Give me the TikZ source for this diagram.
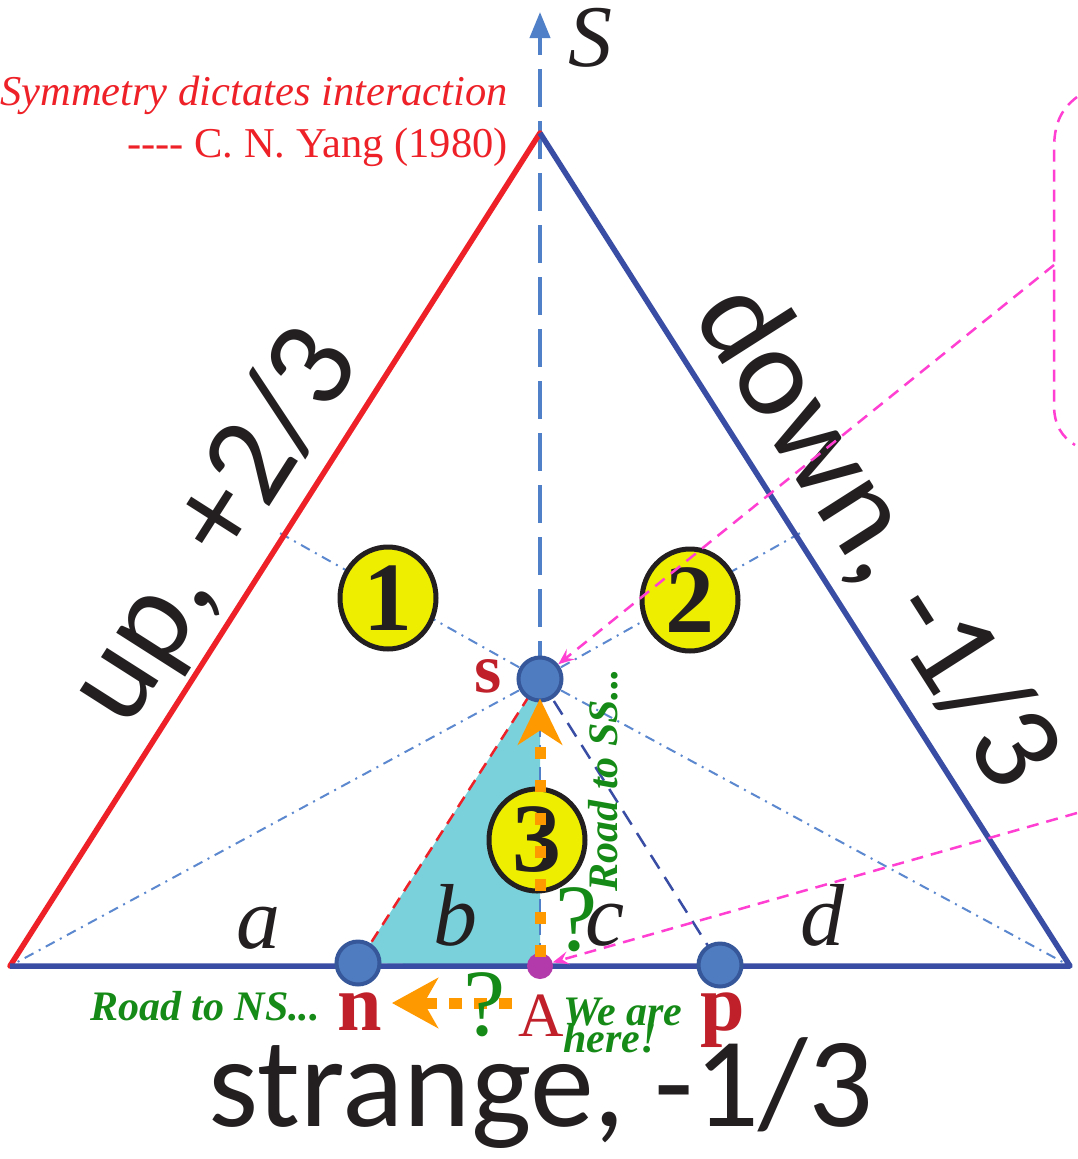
\documentclass[tikz,border=0pt]{standalone}
\usepackage{fontspec}
\setmainfont{Liberation Serif}
\newfontfamily\calfont{Carlito}
\usetikzlibrary{arrows.meta,shapes.geometric}
\definecolor{triblue}{HTML}{3A4DA5}
\definecolor{trired}{HTML}{EE2128}
\definecolor{axblue}{HTML}{4F80C8}
\definecolor{ddblue}{HTML}{5B88CF}
\definecolor{nodeblue}{HTML}{4F7CC0}
\definecolor{nodeedge}{HTML}{36589A}
\definecolor{cyanfill}{HTML}{7BD1DB}
\definecolor{yel}{HTML}{EEEE00}
\definecolor{ink}{HTML}{231F20}
\definecolor{labred}{HTML}{C0202A}
\definecolor{grn}{HTML}{168A16}
\definecolor{orng}{HTML}{FF9900}
\definecolor{pnk}{HTML}{FF3FD2}
\definecolor{magdot}{HTML}{B33AAA}
\newcommand{\fsz}[1]{\fontsize{#1}{#1}\selectfont}
\pgfdeclarelayer{paper}
\pgfdeclarelayer{bg}
\pgfsetlayers{paper,bg,main}
\tikzset{
  bnode/.style={circle,fill=nodeblue,draw=nodeedge,line width=4pt,minimum size=43pt,inner sep=0pt},
  adot/.style={circle,fill=magdot,minimum size=26pt,inner sep=0pt},
  ycirc/.style={ellipse,fill=yel,draw=ink,line width=5pt,minimum width=96pt,minimum height=102pt,inner sep=0pt,text=ink,font=\bfseries\fsz{98}},
  dd/.style={ddblue,line width=2pt,dash pattern=on 10pt off 6pt on 2pt off 6pt},
  pinkline/.style={pnk,line width=2.5pt,dash pattern=on 12pt off 8pt},
  pinktip/.style={-{Stealth[length=16pt,width=13pt,inset=6pt]}},
  grntxt/.style={text=grn,font=\bfseries\itshape\fsz{42},inner sep=0pt},
  redlab/.style={text=labred,font=\bfseries\fsz{80},inner sep=0pt},
  bigsans/.style={text=ink,font=\calfont\fsz{128},inner sep=0pt},
  abcd/.style={text=ink,font=\itshape\fsz{88},inner sep=0pt,anchor=base},
  qmark/.style={text=grn,font=\fsz{95},inner sep=0pt},
  odots/.style={orng,line width=11pt},
}
\begin{document}
\begin{tikzpicture}[x=1pt,y=-1pt]
\useasboundingbox (0,0) rectangle (1077,1159);
\begin{pgfonlayer}{paper}
  \fill[white] (0,0) rectangle (1077,1159);
\end{pgfonlayer}
% key points
\coordinate (T) at (540,133);
\coordinate (L) at (10,966);
\coordinate (R) at (1070,966);
\coordinate (ML) at (278,532);
\coordinate (MR) at (802,532);
\coordinate (top) at (540,12);
\coordinate (P1) at (1054,265);
\coordinate (P2) at (1077,813);
\coordinate (B1) at (1077,97);
\coordinate (B2) at (1075,445);
\coordinate (hs) at (512,1003);
\coordinate (he) at (392,1003);
% point nodes
\node[bnode] (s) at (540,679) {};
\node[bnode] (n) at (358,963) {};
\node[bnode] (p) at (720,965) {};
\node[adot] (A) at (540,966) {};
\begin{pgfonlayer}{bg}
  \fill[cyanfill] (n.center) -- (s.center) -- (A.center) -- cycle;
  \draw[dd] (s.center) -- (L);
  \draw[dd] (s.center) -- (R);
  \draw[dd] (s.center) -- (ML);
  \draw[dd] (s.center) -- (MR);
  \draw[trired,line width=2.5pt,dash pattern=on 12pt off 8pt] (s.center) -- (n.center);
  \draw[triblue,line width=2.5pt,dash pattern=on 16pt off 10pt] (s.center) -- (p.center);
  \draw[axblue,line width=2pt,dash pattern=on 14pt off 8pt] (s.center) -- (A.center);
  \draw[axblue,line width=4pt,dash pattern=on 38pt off 14pt,-{Triangle[length=26pt,width=20pt]}] (s.center) -- (top);
  \draw[trired,line width=5.5pt,line cap=round] (L) -- (T);
  \draw[triblue,line width=5.5pt,line join=round] (T) -- (R) -- (L);
\end{pgfonlayer}
% yellow circles
\node[ycirc] (c1) at (388,598) {1};
\node[ycirc] (c2) at (690,600) {2};
\node[ycirc] (c3) at (537,840) {3};
% orange roads
\draw[odots,dash pattern=on 12pt off 21pt,-{Stealth[length=46pt,width=44pt,inset=14pt]}] ([yshift=-4pt]A.north) -- ([yshift=4pt]s.south);
\draw[odots,dash pattern=on 13pt off 12pt,-{Stealth[length=46pt,width=50pt,inset=14pt]}] (hs) -- (he);
% labels a b c d
\node[abcd] (la) at (258,948) {a};
\node[abcd] (lb) at (455,945) {b};
\node[abcd] (lc) at (605,945) {c};
\node[abcd] (ld) at (822,945) {d};
% red labels
\node[redlab,anchor=base,font=\bfseries\fsz{70}] (ls) at (488,692) {s};
\node[redlab,anchor=base] (ln) at (360,1030) {n};
\node[redlab,anchor=base] (lp) at (723,1030) {p};
\node[redlab,anchor=base,font=\fsz{63}] (lA) at (541,1036) {A};
% green texts
\node[qmark] (q1) at (577,920) {?};
\node[qmark] (q2) at (485,1005) {?};
\node[grntxt,anchor=base] (rns) at (205,1020) {Road to NS...};
\node[grntxt,anchor=base west] (we) at (563,1025) {We are};
\node[grntxt,anchor=base west] (here) at (563,1052) {here!};
\node[grntxt,rotate=90] (rss) at (603,780) {Road to SS...};
% axis label
\node[text=ink,font=\itshape\fsz{88},inner sep=0pt,anchor=base] (S) at (590,66) {S};
% quote
\node[text=trired,font=\itshape\fsz{42.5},inner sep=0pt,anchor=base east] (q) at (508,105) {Symmetry dictates interaction};
\node[text=trired,font=\fsz{42.5},inner sep=0pt,anchor=base east] (y) at (508,157) {-{}-{}-{}- C. N. Yang (1980)};
% side labels
\node[bigsans,rotate=57.5] (up) at (216,527) {up, +2/3};
\node[bigsans,rotate=-57.5] (down) at (876,537) {down, -1/3};
\node[bigsans,anchor=base,font=\calfont\fsz{128}] (str) at (541,1126) {strange, -1/3};
% pink pointers
\draw[pinkline] (B1) .. controls (1060,110) and (1054,125) .. (1054,150) -- (1054,405) .. controls (1054,425) and (1062,437) .. (B2);
\draw[pinkline,pinktip] (P1) -- (s);
\draw[pinkline,pinktip] (P2) -- (A);
\end{tikzpicture}
\end{document}
